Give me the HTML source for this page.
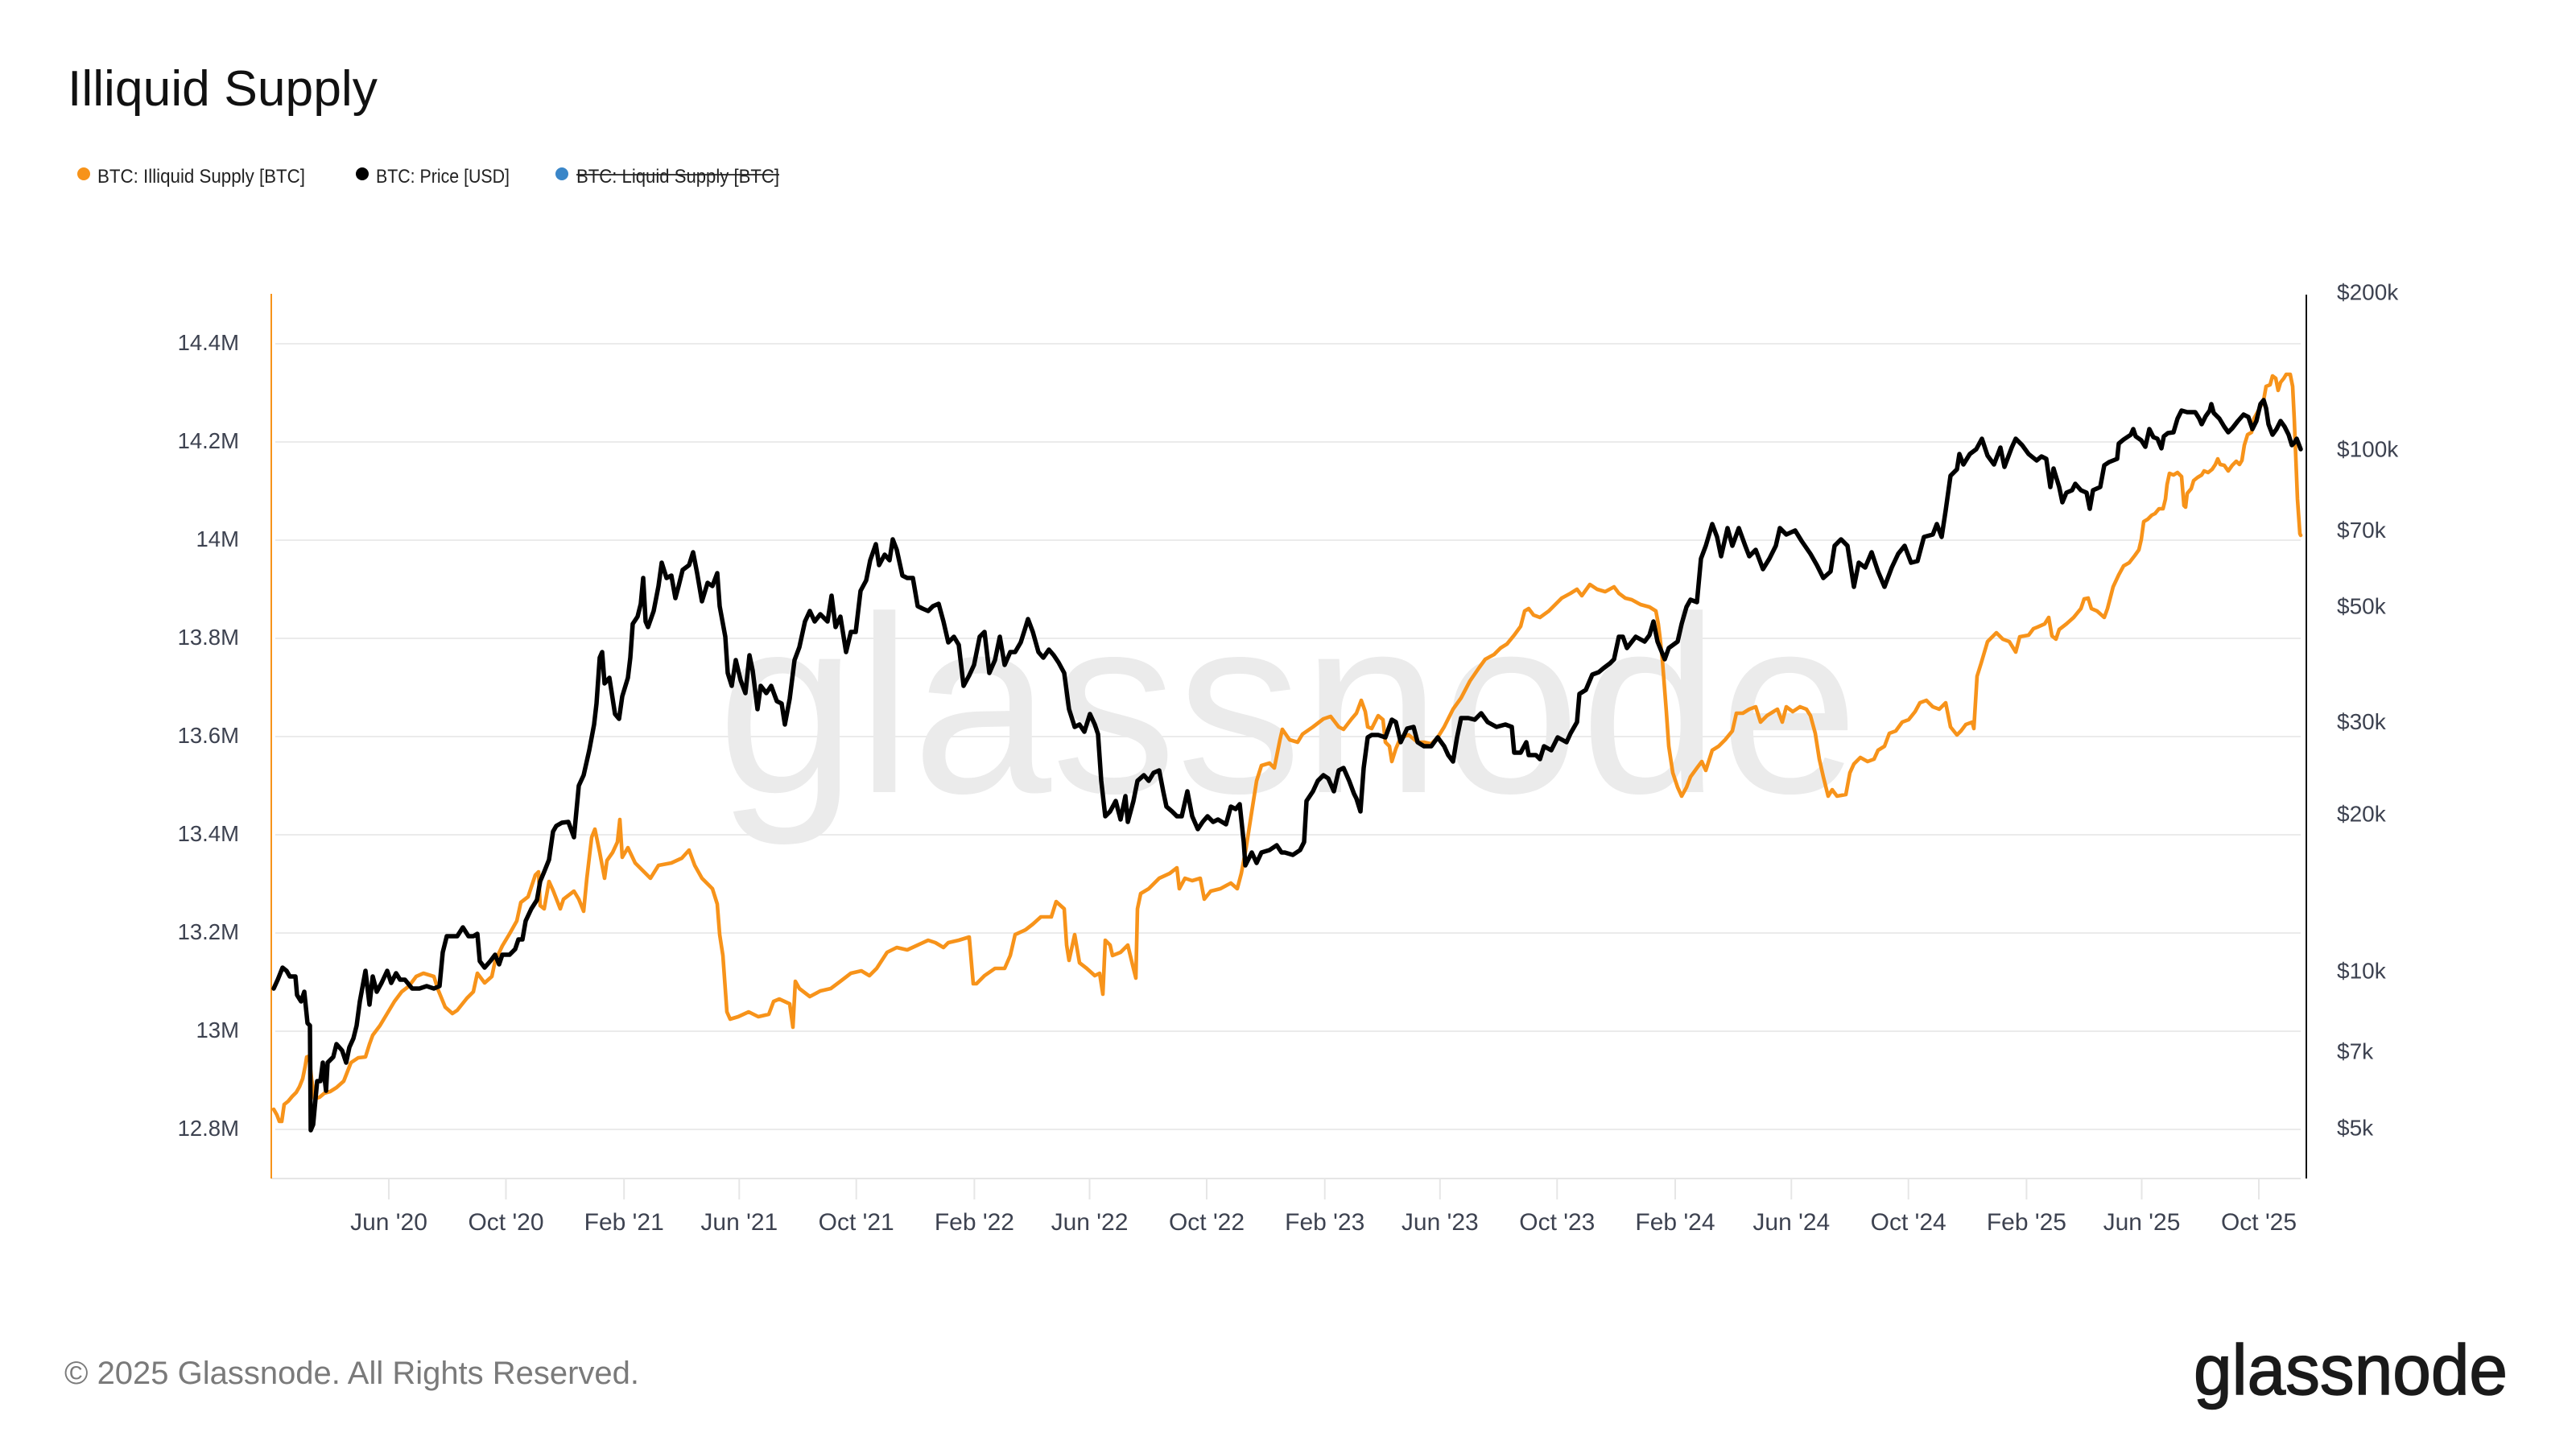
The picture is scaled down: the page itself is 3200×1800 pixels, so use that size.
<!DOCTYPE html>
<html>
<head>
<meta charset="utf-8">
<style>
  html,body{margin:0;padding:0;background:#fff;}
  svg{display:block;}
  text{font-family:"Liberation Sans", Arial, sans-serif;}
</style>
</head>
<body>
<svg width="3200" height="1800" viewBox="0 0 3200 1800" xmlns="http://www.w3.org/2000/svg">
  <rect x="0" y="0" width="3200" height="1800" fill="#ffffff"/>

  <!-- Title -->
  <text x="84" y="131" font-size="62" fill="#111111" textLength="385" lengthAdjust="spacingAndGlyphs">Illiquid Supply</text>

  <!-- Legend -->
  <circle cx="104" cy="216" r="8" fill="#f7931a"/>
  <text x="121" y="227" font-size="24" fill="#222222" textLength="258" lengthAdjust="spacingAndGlyphs">BTC: Illiquid Supply [BTC]</text>
  <circle cx="450" cy="216" r="8" fill="#000000"/>
  <text x="467" y="227" font-size="24" fill="#222222" textLength="166" lengthAdjust="spacingAndGlyphs">BTC: Price [USD]</text>
  <circle cx="698" cy="216" r="8" fill="#3a86c8"/>
  <text x="716" y="227" font-size="24" fill="#222222" textLength="252" lengthAdjust="spacingAndGlyphs">BTC: Liquid Supply [BTC]</text>
  <line x1="716" y1="217" x2="968" y2="217" stroke="#222222" stroke-width="1.8"/>

  <!-- Watermark -->
  <text x="891" y="984" font-size="313" fill="#ebebeb" textLength="1418" lengthAdjust="spacingAndGlyphs">glassnode</text>

  <!-- Gridlines -->
  <g stroke="#ebebeb" stroke-width="2">
    <line x1="342" y1="427" x2="2858" y2="427"/>
    <line x1="342" y1="549" x2="2858" y2="549"/>
    <line x1="342" y1="671" x2="2858" y2="671"/>
    <line x1="342" y1="793" x2="2858" y2="793"/>
    <line x1="342" y1="915" x2="2858" y2="915"/>
    <line x1="342" y1="1037" x2="2858" y2="1037"/>
    <line x1="342" y1="1159" x2="2858" y2="1159"/>
    <line x1="342" y1="1281" x2="2858" y2="1281"/>
    <line x1="342" y1="1403" x2="2858" y2="1403"/>
  </g>

  <!-- Left axis labels -->
  <g font-size="27.5" fill="#3d4250" text-anchor="end">
    <text x="297" y="435">14.4M</text>
    <text x="297" y="557">14.2M</text>
    <text x="297" y="679">14M</text>
    <text x="297" y="801">13.8M</text>
    <text x="297" y="923">13.6M</text>
    <text x="297" y="1045">13.4M</text>
    <text x="297" y="1167">13.2M</text>
    <text x="297" y="1289">13M</text>
    <text x="297" y="1411">12.8M</text>
  </g>

  <!-- Right axis labels -->
  <g font-size="28" fill="#3d4250">
    <text x="2903" y="372.5">$200k</text>
    <text x="2903" y="567.5">$100k</text>
    <text x="2903" y="667.8">$70k</text>
    <text x="2903" y="762.5">$50k</text>
    <text x="2903" y="906.2">$30k</text>
    <text x="2903" y="1020.3">$20k</text>
    <text x="2903" y="1215.3">$10k</text>
    <text x="2903" y="1315.5">$7k</text>
    <text x="2903" y="1410.3">$5k</text>
  </g>

  <!-- X axis -->
  <line x1="337" y1="1464" x2="2858" y2="1464" stroke="#e6e6e6" stroke-width="2"/>
  <g stroke="#e6e6e6" stroke-width="2">
    <line x1="483" y1="1464" x2="483" y2="1490"/>
    <line x1="628.5" y1="1464" x2="628.5" y2="1490"/>
    <line x1="775.2" y1="1464" x2="775.2" y2="1490"/>
    <line x1="918.3" y1="1464" x2="918.3" y2="1490"/>
    <line x1="1063.7" y1="1464" x2="1063.7" y2="1490"/>
    <line x1="1210.4" y1="1464" x2="1210.4" y2="1490"/>
    <line x1="1353.5" y1="1464" x2="1353.5" y2="1490"/>
    <line x1="1499" y1="1464" x2="1499" y2="1490"/>
    <line x1="1645.7" y1="1464" x2="1645.7" y2="1490"/>
    <line x1="1788.8" y1="1464" x2="1788.8" y2="1490"/>
    <line x1="1934.3" y1="1464" x2="1934.3" y2="1490"/>
    <line x1="2081" y1="1464" x2="2081" y2="1490"/>
    <line x1="2225.3" y1="1464" x2="2225.3" y2="1490"/>
    <line x1="2370.7" y1="1464" x2="2370.7" y2="1490"/>
    <line x1="2517.4" y1="1464" x2="2517.4" y2="1490"/>
    <line x1="2660.5" y1="1464" x2="2660.5" y2="1490"/>
    <line x1="2806" y1="1464" x2="2806" y2="1490"/>
  </g>
  <g font-size="30" fill="#3d4250" text-anchor="middle">
    <text x="483" y="1528">Jun '20</text>
    <text x="628.5" y="1528">Oct '20</text>
    <text x="775.2" y="1528">Feb '21</text>
    <text x="918.3" y="1528">Jun '21</text>
    <text x="1063.7" y="1528">Oct '21</text>
    <text x="1210.4" y="1528">Feb '22</text>
    <text x="1353.5" y="1528">Jun '22</text>
    <text x="1499" y="1528">Oct '22</text>
    <text x="1645.7" y="1528">Feb '23</text>
    <text x="1788.8" y="1528">Jun '23</text>
    <text x="1934.3" y="1528">Oct '23</text>
    <text x="2081" y="1528">Feb '24</text>
    <text x="2225.3" y="1528">Jun '24</text>
    <text x="2370.7" y="1528">Oct '24</text>
    <text x="2517.4" y="1528">Feb '25</text>
    <text x="2660.5" y="1528">Jun '25</text>
    <text x="2806" y="1528">Oct '25</text>
  </g>

  <!-- Axis lines -->
  <line x1="337" y1="365" x2="337" y2="1464" stroke="#f7931a" stroke-width="2"/>
  <line x1="2865" y1="366" x2="2865" y2="1464" stroke="#111111" stroke-width="2"/>

  <!-- Illiquid Supply (orange) -->
  <polyline fill="none" stroke="#f7931a" stroke-width="4.6" stroke-linejoin="round" stroke-linecap="round" points="
340,1378 344,1385 347,1393 350,1393 353,1372 358,1368 363,1362 368,1357 372,1350 376,1340 379,1325 381,1313 384,1312 387,1340 391,1365 397,1363 403,1358 410,1356 418,1351 427,1343 436,1320 445,1314 454,1313 459,1297 463,1286 472,1274 481,1259 490,1244 499,1232 508,1225 517,1213 526,1209 539,1213 544,1229 553,1251 562,1259 568,1255 580,1240 588,1232 593,1209 602,1221 611,1213 615,1194 624,1175 633,1160 642,1144 647,1121 656,1114 665,1087 669,1083 671,1125 676,1129 682,1095 687,1106 696,1129
700,1117 713,1107 719,1117 725,1132 729,1091 735,1040 739,1030 745,1059 751,1091 754,1069 761,1059 767,1046 770,1018 773,1065 780,1053 789,1072 802,1085 808,1091 818,1075 834,1072 847,1066 856,1056 863,1075 872,1091 885,1104 891,1123 894,1161 898,1187 903,1257 907,1266 917,1263 930,1257 942,1263 955,1260 961,1244 968,1241 981,1247 985,1276 988,1219 993,1228 1006,1238 1019,1231 1032,1228 1044,1219 1057,1209 1070,1206 1080,1212 1089,1203 1102,1183 1114,1177 1127,1180 1140,1174 1153,1168 1162,1171 1172,1177 1178,1171 1191,1168 1204,1164 1209,1222 1213,1222 1223,1212 1236,1203 1248,1203 1255,1187 1261,1161 1274,1155 1283,1148 1293,1139 1306,1139 1312,1120 1322,1129 1325,1174 1328,1193 1335,1161 1341,1196 1350,1203 1360,1212 1366,1209 1370,1235 1373,1168 1379,1174 1382,1187 1392,1183 1401,1174 1407,1199 1411,1215 1413,1129 1417,1110 1427,1104 1440,1091 1453,1085 1462,1078 1465,1104 1472,1091 1481,1094 1491,1091 1496,1117 1504,1107 1516,1104 1529,1097 1537,1104 1542,1085 1548,1053 1555,1008 1561,970 1567,951 1577,948 1583,954 1590,919 1593,906 1602,919 1612,922 1618,912 1631,903 1644,893 1653,890 1663,903 1669,906 1679,893
1685,886 1691,870 1696,884 1699,903 1704,905 1712,889 1718,894 1721,922 1726,927 1729,946 1734,930 1740,916 1750,913 1761,922 1769,922 1778,924 1786,916 1794,903 1805,881 1815,867 1826,846 1837,830 1845,819 1856,813 1864,805 1872,800 1881,789 1889,778 1894,759 1899,756 1905,764 1913,767 1924,759 1932,751 1940,743 1951,737 1959,732 1965,740 1975,726 1984,732 1994,735 2005,729 2011,737 2019,743 2027,745 2038,751 2049,754 2057,759 2060,775 2062,791 2065,819 2070,884 2073,927 2078,960 2084,978 2089,989 2095,978 2100,965 2108,954 2114,946 2119,957 2127,932 2135,927 2143,919 2152,908 2157,886 2165,886 2173,881 2181,878 2187,897 2195,889 2203,884 2208,881 2214,897 2219,878 2227,884 2236,878 2244,881 2249,889 2255,911 2260,943 2265,965 2271,989 2276,981 2282,989 2293,987 2298,960 2303,949 2311,941 2320,946 2328,943 2333,932 2341,927 2347,911 2355,908 2363,897 2371,894 2379,884 2385,873 2393,870 2401,878 2409,881 2417,873 2423,903 2431,913 2436,908 2442,900 2450,897 2452,905 2456,840 2461,824 2469,797 2480,786 2488,794 2496,797 2504,810 2509,791 2520,789 2526,781
2531,779 2540,775 2545,767 2549,790 2554,794 2558,782 2567,775 2576,767 2585,756 2589,744 2594,743 2598,756 2605,759 2614,767 2618,756 2625,729 2632,714 2638,703 2645,699
2652,690 2657,683 2660,670 2663,648 2668,645 2673,640 2677,638 2682,632 2687,632 2690,620 2692,602 2695,588 2700,590 2705,587 2710,592 2713,628 2715,630 2717,613 2722,607 2725,597 2730,593 2735,590 2738,585 2743,587 2748,583 2752,577 2755,570 2758,577 2763,578 2768,585 2773,578 2778,573 2782,577 2785,572 2788,553 2792,540 2797,537 2800,520 2807,507 2812,497 2815,480 2820,478 2823,467 2827,470 2830,485 2833,475 2837,470 2840,465 2845,465 2848,480 2850,520 2852,570 2854,620 2857,663 2858,665"/>

  <!-- Price (black) -->
  <polyline fill="none" stroke="#000000" stroke-width="5.5" stroke-linejoin="round" stroke-linecap="round" points="
340,1228 345,1217 351,1202 356,1206 360,1213 367,1213 369,1236 374,1244 378,1232 382,1271 385,1274 386,1404 389,1397 394,1343 398,1343 401,1320 405,1355 407,1320 414,1313 418,1297 425,1305 430,1320 434,1301 439,1290 443,1274 447,1244 454,1206 459,1248 463,1213 468,1232 474,1221 481,1206 486,1221 492,1209 497,1217 503,1217 512,1228 521,1228 530,1225 539,1228 546,1225 550,1183 555,1163 562,1163 568,1163 575,1152 582,1163 588,1163 593,1160 596,1194 602,1202 609,1194 615,1186 620,1198 624,1186 633,1186 640,1179 644,1167 649,1167 653,1144 660,1129 667,1118 671,1095 676,1083 682,1068 687,1033 691,1026 698,1022
706,1021 713,1040 719,976 725,963 732,932 738,900 741,874 745,817 748,810 751,849 757,842 764,887 769,893 773,865 780,842 783,817 786,775 792,766 796,750 799,718 802,772 805,779 812,759 818,728 822,699 828,718 834,715 839,743 843,728 848,708 856,702 861,686 866,712 872,747 879,724 885,728 891,712 894,753 901,791 904,836 909,852 914,820 920,845 926,861 931,814 935,833 941,881 945,852 952,861 958,852 965,871 971,874 975,900 981,868 987,820 993,804 1000,772 1006,759 1012,772 1019,763 1028,772 1033,740 1038,779 1044,766 1051,810 1057,785 1063,785 1069,734 1076,721 1081,696 1088,676 1092,702 1099,689 1105,696 1109,670 1114,683 1121,715 1127,718 1134,718 1140,753 1146,756 1153,759 1159,753 1166,750 1172,772 1178,798 1185,791 1191,801 1197,852 1204,839 1210,826 1217,791 1223,785 1229,836 1236,820 1242,791 1248,826 1255,810 1261,810 1268,798 1274,779 1277,769 1283,785 1290,810 1296,817 1303,807 1309,814 1315,823 1322,836 1328,881 1335,903 1341,900 1347,909 1354,887 1360,900 1364,912 1368,970 1373,1014 1379,1008 1386,995 1392,1018 1398,989 1401,1021 1408,995 1413,970 1421,963 1427,970 1433,960 1440,957 1445,983 1449,1002 1456,1008 1462,1014 1468,1014 1475,983 1481,1014 1488,1030 1494,1021 1500,1014 1507,1021 1513,1018 1523,1024 1529,1002 1535,1005 1540,999 1545,1046 1547,1075 1555,1059 1561,1072 1567,1059 1577,1056 1586,1050 1592,1059 1596,1059 1606,1062 1615,1056 1620,1046 1623,995 1631,983 1637,970 1644,963 1650,967 1657,983 1663,957 1669,954 1676,970 1682,986
1685,992 1690,1008 1694,954 1699,916 1704,913 1712,913 1721,916 1729,894 1734,897 1740,922 1748,905 1756,903 1761,922 1769,927 1778,927 1786,916 1794,927 1799,938 1805,946 1810,916 1815,892 1824,892 1832,894 1840,886 1848,897 1859,903 1870,900 1878,903 1881,935 1889,935 1896,922 1899,938 1908,938 1913,943 1918,927 1927,932 1935,916 1946,922 1951,911 1959,897 1962,862 1970,857 1978,838 1986,835 1992,830 2000,824 2005,819 2011,791 2016,791 2021,805 2032,791 2043,797 2049,789 2054,772 2059,797 2068,819 2073,805 2084,797 2089,775 2095,754 2100,745 2108,748 2113,694 2119,678 2127,651 2133,667 2138,691 2146,656 2152,678 2160,656 2168,678 2173,691 2181,683 2190,707 2198,694 2206,678 2211,656 2219,664 2230,659 2238,672 2249,688 2257,702 2265,718 2274,710 2279,678 2287,670 2295,678 2301,716 2303,729 2309,699 2317,705 2325,686 2333,710 2341,729 2350,705 2358,688 2366,678 2374,699 2382,697 2390,667 2401,664 2406,651 2412,667 2417,634 2423,591 2431,583 2434,564 2439,577 2447,564 2455,558 2462,545 2469,566 2477,577 2485,556 2490,580 2499,556 2504,545 2512,553 2520,564 2530,572
2536,567 2542,570 2547,605 2551,582 2558,605 2562,624 2567,612 2574,609 2578,601 2585,609 2592,612 2596,632 2600,609 2609,605 2614,578 2620,574 2630,570 2632,551 2638,546 2647,540
2650,533 2653,542 2660,547 2665,555 2670,533 2675,543 2680,545 2685,557 2688,542 2693,538 2700,537 2705,520 2710,510 2717,512 2727,512 2732,520 2735,527 2740,517 2745,510 2747,502 2750,513 2757,520 2763,530 2768,537 2773,532 2780,523 2787,515 2793,518 2798,533 2803,523 2808,502 2812,497 2815,507 2818,527 2823,540 2828,533 2833,523 2838,530 2843,540 2847,553 2850,550 2853,545 2858,558"/>

  <!-- Footer -->
  <text x="80" y="1719" font-size="40" fill="#7a7a7a" textLength="714" lengthAdjust="spacingAndGlyphs">© 2025 Glassnode. All Rights Reserved.</text>
  <text x="2725" y="1732" font-size="88" fill="#1a1a1a" stroke="#1a1a1a" stroke-width="1.5" textLength="390" lengthAdjust="spacingAndGlyphs">glassnode</text>
</svg>
</body>
</html>
